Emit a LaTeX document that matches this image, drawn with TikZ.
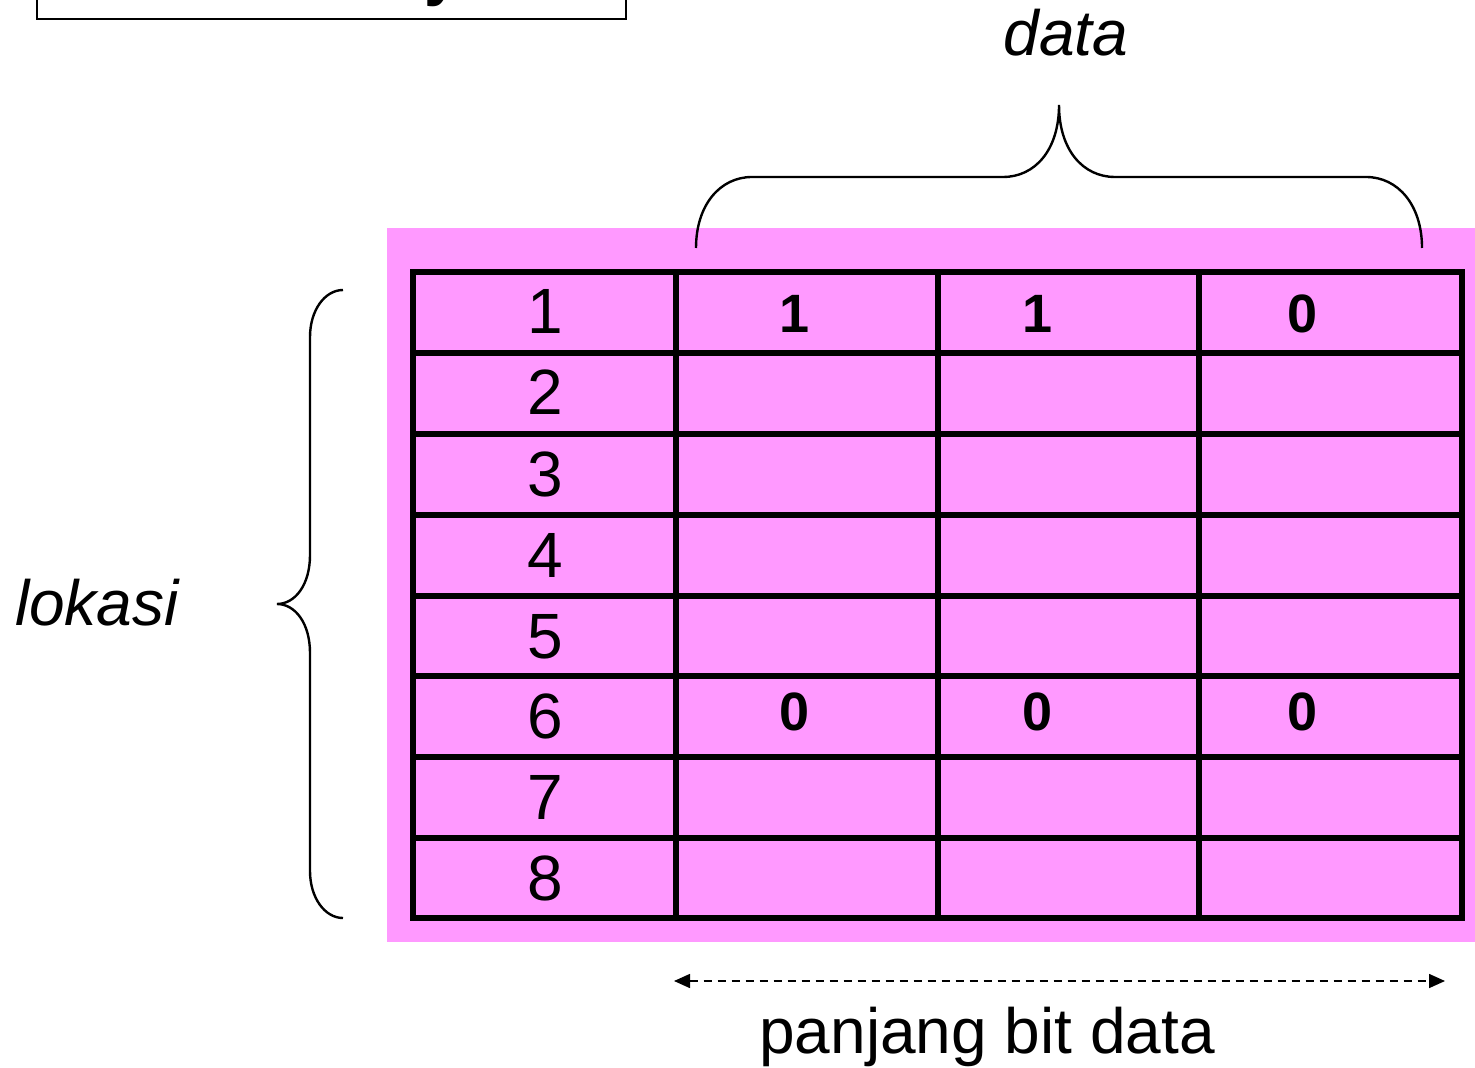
\documentclass[tikz,border=0pt]{standalone}
\usepackage{fontspec}
\setmainfont{Liberation Sans}
\usetikzlibrary{arrows.meta}
\definecolor{cellpink}{RGB}{255,153,255}
\begin{document}
\begin{tikzpicture}[x=0.5pt,y=-0.5pt,
  gridline/.style={line width=3.2pt,line cap=rect,line join=miter},
  bracepath/.style={line width=1.2pt},
  rownum/.style={font=\fontsize{32}{38}\selectfont,anchor=base,inner sep=0pt},
  bitval/.style={font=\fontsize{27}{32}\selectfont\bfseries,anchor=base,inner sep=0pt},
  label/.style={font=\fontsize{32}{38}\selectfont,anchor=base,inner sep=0pt}]
\useasboundingbox (0,0) rectangle (1475,1068);

% title box, mostly above the page
\draw[line width=1pt] (37,-80) rectangle (626,19);
\node[font=\fontsize{32}{38}\selectfont\bfseries,anchor=base,inner sep=0pt] (ttl) at (442,-6) {y};

% memory block background
\fill[cellpink] (387,228) rectangle (1475,942);

% table grid
\foreach \xx in {676,938,1199}
  \draw[gridline] (\xx,272) -- (\xx,918);
\foreach \yy in {353,434,515,596,676,757,838}
  \draw[gridline] (413,\yy) -- (1462,\yy);
\draw[gridline] (413,272) rectangle (1462,918);

% location numbers
\foreach \n/\yy in {1/312,2/393,3/474,4/555,5/636,6/716,7/797,8/878}
  \node[rownum] (r\n) at (545,\yy+22) {\n};

% stored bits
\node[bitval] (b11) at (795,333) {1};
\node[bitval] (b12) at (1037,333) {1};
\node[bitval] (b13) at (1302,333) {0};
\node[bitval] (b61) at (795,730) {0};
\node[bitval] (b62) at (1037,730) {0};
\node[bitval] (b63) at (1302,730) {0};

% brace over the data columns
\draw[bracepath] (696,248) .. controls (696,205) and (720,177) .. (752,177) -- (1003,177)
  .. controls (1035,177) and (1059,150) .. (1059,105)
  .. controls (1059,150) and (1083,177) .. (1115,177) -- (1366,177)
  .. controls (1398,177) and (1422,205) .. (1422,248);
\node[label,font=\fontsize{32}{38}\selectfont\itshape] (data) at (1066,56) {data};

% brace beside the locations
\draw[bracepath] (343,290) .. controls (325,290) and (310,310) .. (310,337) -- (310,555)
  .. controls (310,585) and (295,604) .. (277,604)
  .. controls (295,604) and (310,623) .. (310,653) -- (310,871)
  .. controls (310,898) and (325,918) .. (343,918);
\node[label,font=\fontsize{32}{38}\selectfont\itshape] (lok) at (97,625) {lokasi};

% word length arrow
\coordinate (al) at (674,981);
\coordinate (ar) at (1445,981);
\draw[line width=0.8pt,dash pattern=on 4pt off 3pt,{Triangle[length=8pt,width=7pt]}-{Triangle[length=8pt,width=7pt]}] (al) -- (ar);
\node[label] (pbd) at (987,1053) {panjang bit data};
\end{tikzpicture}
\end{document}
